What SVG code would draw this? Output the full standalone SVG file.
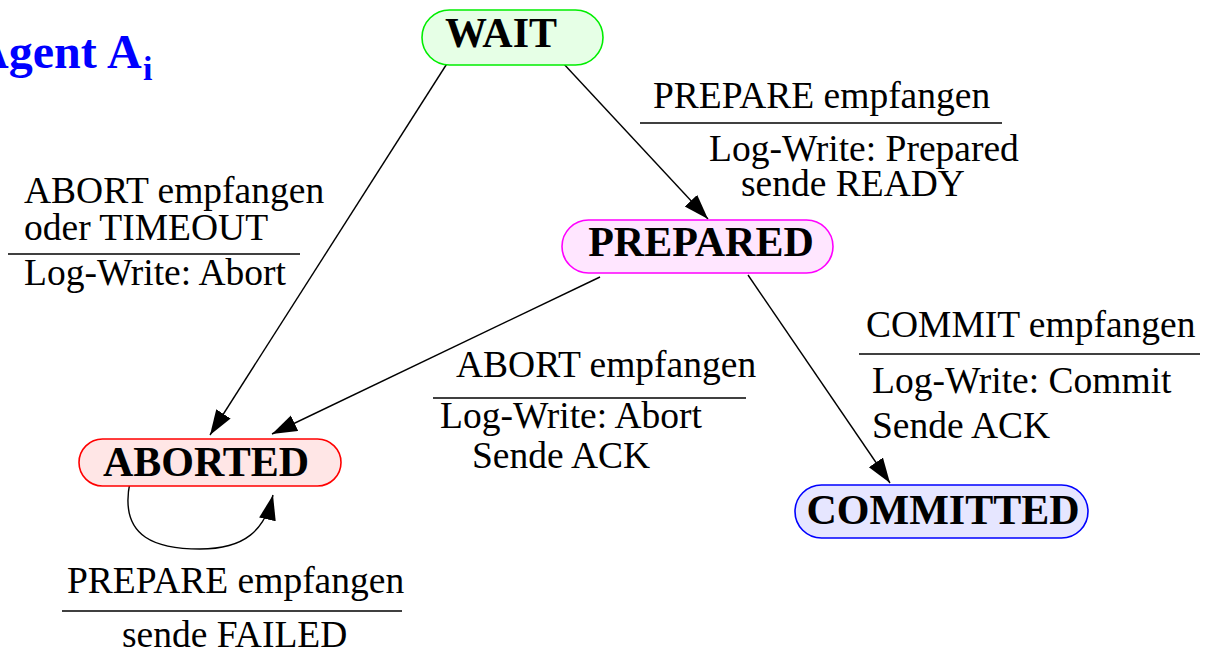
<svg xmlns="http://www.w3.org/2000/svg" width="1205" height="653" viewBox="0 0 1205 653">
<style>
.node text{font-family:"Liberation Serif","Times New Roman",serif;font-weight:bold;font-size:42px;fill:#000;text-anchor:middle}
.lbl{font-family:"Liberation Serif","Times New Roman",serif;font-size:37.5px;fill:#000}
.sep{stroke:#000;stroke-width:1.5}
.conn path,.conn line{fill:none;stroke:#000;stroke-width:1.4;marker-end:url(#ah)}
.title{font-family:"Liberation Serif","Times New Roman",serif;font-weight:bold;font-size:48px;fill:#0000ff}
</style>
<defs>
<marker id="ah" markerUnits="userSpaceOnUse" markerWidth="26" markerHeight="18" refX="25" refY="8.5" orient="auto">
<path d="M0,0 L25,8.5 L0,17 z" fill="#000"/>
</marker>
</defs>
<rect width="1205" height="653" fill="#fff"/>
<text class="title" y="68"><tspan x="-26">Agent</tspan><tspan x="107">A</tspan><tspan x="143" dy="12" font-size="34">i</tspan></text>

<g id="connectors" class="conn">
<line x1="448" y1="62" x2="210" y2="435"/>
<line x1="562" y1="62" x2="708" y2="219"/>
<line x1="600" y1="277" x2="272" y2="434"/>
<line x1="748" y1="275" x2="890" y2="483"/>
<path d="M130,482 C118,540 160,549 200,549 C245,549 265,530 273,495"/>
</g>

<g id="node-wait" class="node">
<rect x="422" y="10" width="181" height="55" rx="27.5" fill="#e6ffe6" stroke="#00ee00" stroke-width="1.6"/>
<text x="501" y="47">WAIT</text>
</g>
<g id="node-prepared" class="node">
<rect x="562" y="220" width="271" height="53" rx="26.5" fill="#ffe6ff" stroke="#ff00ff" stroke-width="1.6"/>
<text x="701" y="256">PREPARED</text>
</g>
<g id="node-aborted" class="node">
<rect x="79" y="439" width="262" height="47" rx="23.5" fill="#ffe6e6" stroke="#ff0000" stroke-width="1.6"/>
<text x="206" y="476">ABORTED</text>
</g>
<g id="node-committed" class="node">
<rect x="795" y="485" width="293" height="53" rx="26.5" fill="#e6e6ff" stroke="#0000ff" stroke-width="1.6"/>
<text x="943" y="524">COMMITTED</text>
</g>

<g id="label-wait-prepared">
<text class="lbl" x="653" y="108">PREPARE empfangen</text>
<line class="sep" x1="640" y1="123" x2="1002" y2="123"/>
<text class="lbl" x="709" y="161">Log-Write: Prepared</text>
<text class="lbl" x="741" y="196">sende READY</text>
</g>
<g id="label-wait-aborted">
<text class="lbl" x="24" y="203">ABORT empfangen</text>
<text class="lbl" x="24" y="240">oder TIMEOUT</text>
<line class="sep" x1="8" y1="254" x2="300" y2="254"/>
<text class="lbl" x="24" y="285">Log-Write: Abort</text>
</g>
<g id="label-prepared-aborted">
<text class="lbl" x="456" y="377">ABORT empfangen</text>
<line class="sep" x1="433" y1="398" x2="746" y2="398"/>
<text class="lbl" x="440" y="428">Log-Write: Abort</text>
<text class="lbl" x="472" y="468">Sende ACK</text>
</g>
<g id="label-prepared-committed">
<text class="lbl" x="866" y="337">COMMIT empfangen</text>
<line class="sep" x1="859" y1="354" x2="1200" y2="354"/>
<text class="lbl" x="872" y="393">Log-Write: Commit</text>
<text class="lbl" x="872" y="438">Sende ACK</text>
</g>
<g id="label-aborted-loop">
<text class="lbl" x="67" y="593">PREPARE empfangen</text>
<line class="sep" x1="62" y1="611" x2="402" y2="611"/>
<text class="lbl" x="122" y="647">sende FAILED</text>
</g>
</svg>
